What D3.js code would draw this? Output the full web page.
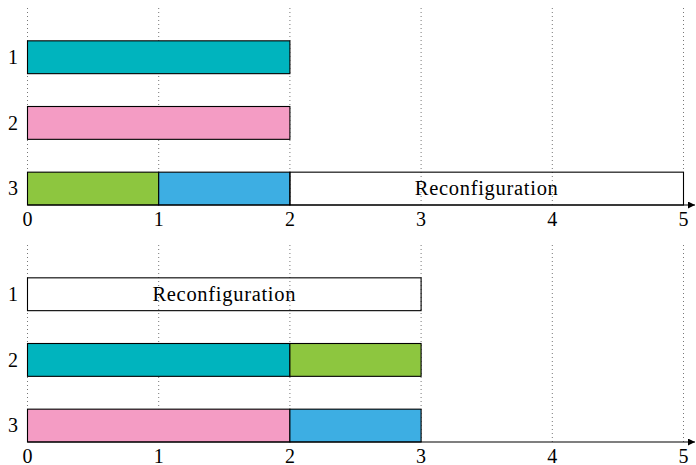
<!DOCTYPE html>
<html>
<head>
<meta charset="utf-8">
<script src="https://cdn.jsdelivr.net/npm/d3@7"></script>
<style>
  body { margin: 0; background: #fff; }
</style>
</head>
<body>
<div id="chart"></div>
<script>
(function () {

  // data
  const rows = [1, 2, 3];
  const xTicks = [0, 1, 2, 3, 4, 5];
  const colors = { A: "#00b4be", B: "#f49cc4", C: "#8dc63f", D: "#3daee3", R: "none" };
  const labelR = "Reconfiguration";
  // [row, start, end, kind]
  const tasksTop = [
    [1, 0, 2, "A"],
    [2, 0, 2, "B"],
    [3, 0, 1, "C"],
    [3, 1, 2, "D"],
    [3, 2, 5, "R"]
  ];
  const tasksBottom = [
    [1, 0, 3, "R"],
    [2, 0, 2, "A"],
    [2, 2, 3, "C"],
    [3, 0, 2, "B"],
    [3, 2, 3, "D"]
  ];

  const svg_width = 696, svg_height = 465;
  const fontFamily = "'Liberation Serif', 'DejaVu Serif', serif";
  const x = d3.scaleLinear().domain([0, 5]).range([27.5, 683.5]);

  const svg = d3.select("#chart").append("svg")
    .attr("width", svg_width)
    .attr("height", svg_height)
    .attr("font-family", fontFamily);

  svg.append("defs").append("marker")
    .attr("id", "arrow")
    .attr("viewBox", "0 0 10 10")
    .attr("refX", 10).attr("refY", 5)
    .attr("markerUnits", "userSpaceOnUse")
    .attr("markerWidth", 9).attr("markerHeight", 7)
    .attr("orient", "auto")
    .append("path").attr("d", "M0,0L10,5L0,10z").attr("fill", "#000");

  function drawPanel(tasks, top, axisY) {
    const g = svg.append("g");
    const y = d3.scaleBand().domain(rows).range([top, axisY])
      .paddingInner(0.5).paddingOuter(0.25).align(1);

    // dotted grid
    g.selectAll(".grid").data(xTicks).enter().append("line")
      .attr("x1", d => x(d)).attr("x2", d => x(d))
      .attr("y1", top).attr("y2", axisY)
      .attr("stroke", "#777").attr("stroke-width", 1)
      .attr("stroke-dasharray", "1,3");

    // bars
    g.selectAll(".bar").data(tasks).enter().append("rect")
      .attr("x", d => x(d[1]))
      .attr("y", d => y(d[0]))
      .attr("width", d => x(d[2]) - x(d[1]))
      .attr("height", y.bandwidth())
      .attr("fill", d => colors[d[3]])
      .attr("stroke", "#000").attr("stroke-width", 1.1);

    g.selectAll(".barlabel").data(tasks.filter(d => d[3] === "R")).enter().append("text")
      .attr("x", d => (x(d[1]) + x(d[2])) / 2)
      .attr("y", d => y(d[0]) + y.bandwidth() / 2)
      .attr("dy", "0.33em")
      .attr("text-anchor", "middle")
      .style("font-family", fontFamily)
      .style("font-size", "20.5px")
      .style("letter-spacing", "0.7px")
      .text(labelR);

    // row labels
    g.selectAll(".rowlabel").data(rows).enter().append("text")
      .attr("x", 13)
      .attr("y", d => y(d) + y.bandwidth() / 2)
      .attr("dy", "0.33em")
      .attr("text-anchor", "middle")
      .style("font-family", fontFamily)
      .style("font-size", "20px")
      .text(d => d);

    // x axis with arrow
    g.append("line")
      .attr("x1", x(0)).attr("x2", 695)
      .attr("y1", axisY).attr("y2", axisY)
      .attr("stroke", "#000").attr("stroke-width", 1.1)
      .attr("marker-end", "url(#arrow)");

    g.selectAll(".xlabel").data(xTicks).enter().append("text")
      .attr("x", d => x(d))
      .attr("y", axisY + 14.5)
      .attr("dy", "0.33em")
      .attr("text-anchor", "middle")
      .style("font-family", fontFamily)
      .style("font-size", "20px")
      .text(d => d);
  }

  drawPanel(tasksTop, 8, 205);
  drawPanel(tasksBottom, 245, 442);

})();
</script>
</body>
</html>
